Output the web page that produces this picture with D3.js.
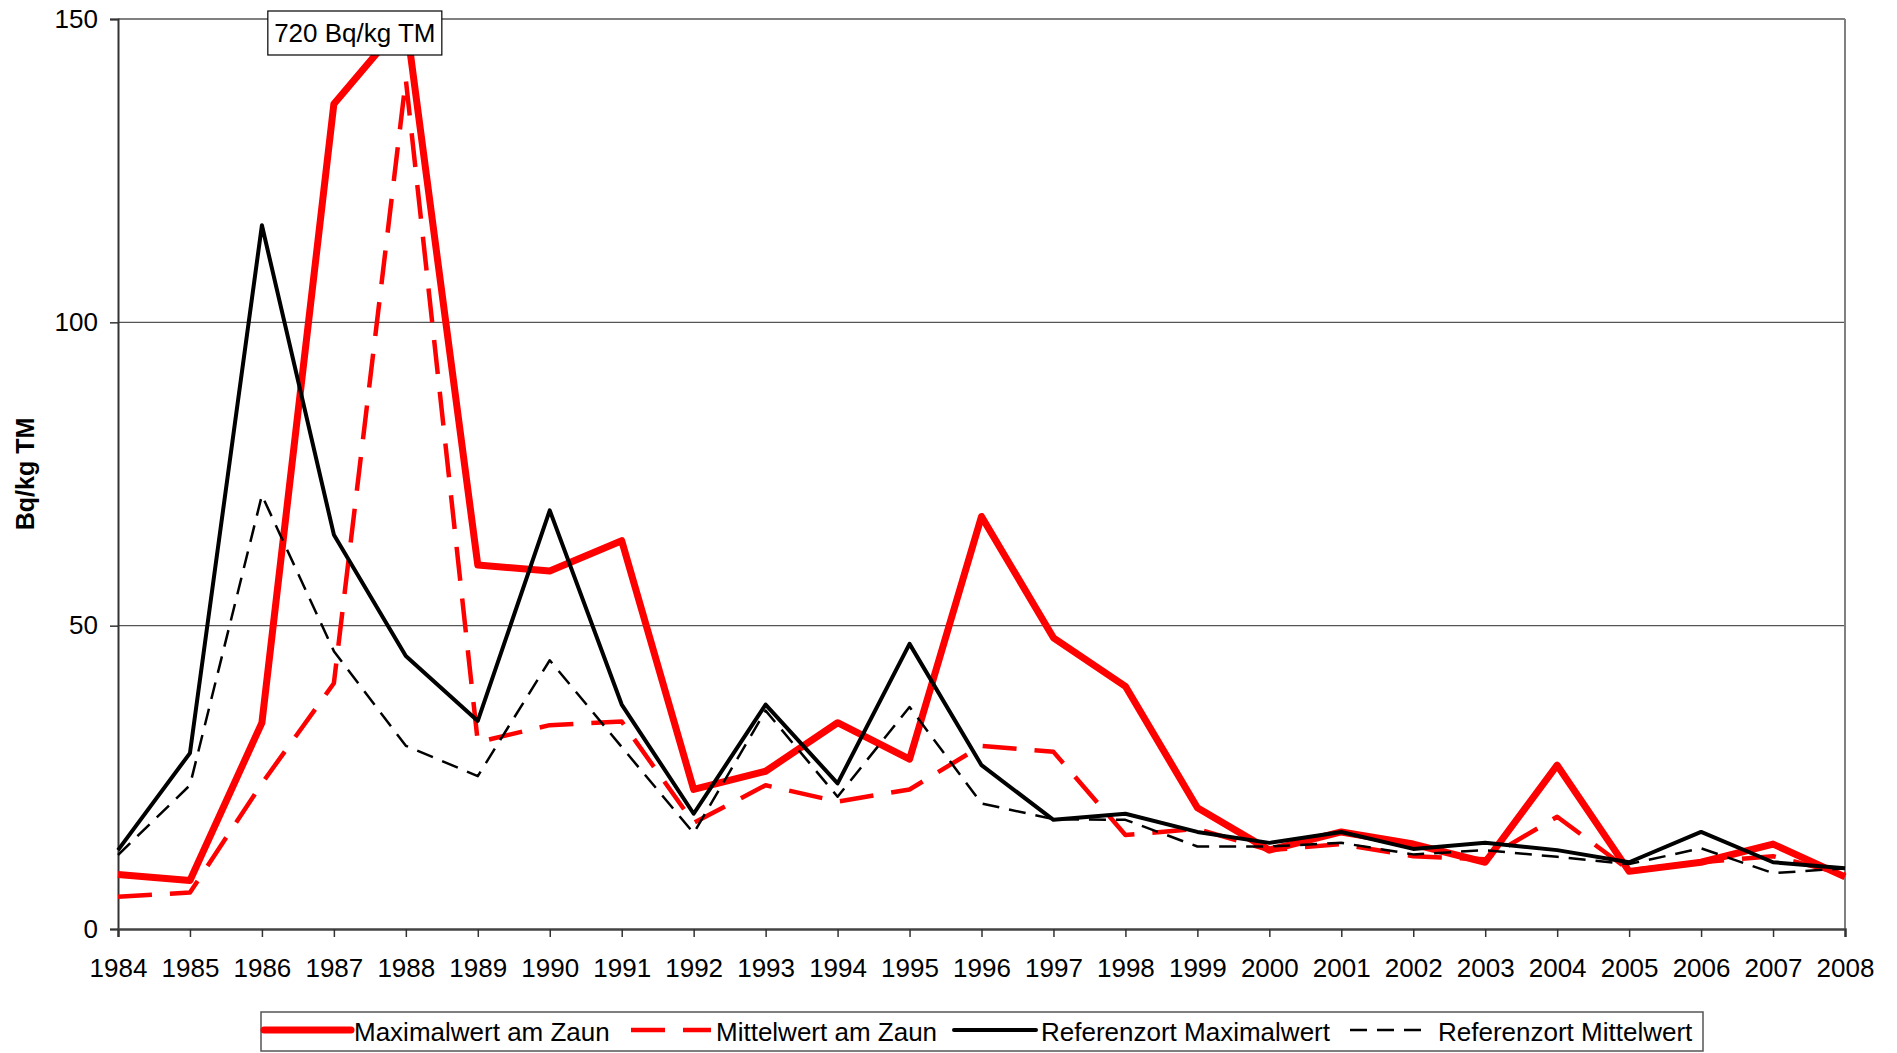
<!DOCTYPE html>
<html>
<head>
<meta charset="utf-8">
<script src="https://cdn.jsdelivr.net/npm/d3@7"></script>
<style>
  html, body { margin: 0; padding: 0; background: #fff; }
  svg { display: block; font-family: "Liberation Sans", Arial, sans-serif; }
</style>
</head>
<body>
<svg id="chart" width="1897" height="1053"></svg>
<script>
// ---- data ----
const years = [1984,1985,1986,1987,1988,1989,1990,1991,1992,1993,1994,1995,1996,1997,1998,1999,2000,2001,2002,2003,2004,2005,2006,2007,2008];
// 1988 maximum is off scale (720 Bq/kg TM), drawn capped at the axis maximum
const maxZaun   = [9, 8, 34, 136, 150, 60, 59, 64, 23, 26, 34, 28, 68, 48, 40, 20, 13, 16, 14, 11, 27, 9.5, 11, 14, 8.6];
const mittelZaun = [5.3, 6, 24, 40.5, 140, 30.8, 33.6, 34.2, 17.5, 23.7, 21, 23, 30.2, 29.2, 15.5, 16.5, 13, 14, 12, 11.5, 18.5, 9.7, 11, 12, 9];
const refMax    = [13, 29, 116, 65, 45, 34.3, 69, 37, 19, 37, 24, 47, 27, 18, 19, 16, 14.2, 16, 13.2, 14.2, 13, 11, 16, 11, 10];
const refMittel = [12.2, 23.7, 71.5, 45.8, 30.2, 25.2, 44.3, 30, 15.8, 36, 21.8, 36.6, 20.7, 18.1, 18, 13.6, 13.6, 14.2, 12.3, 13, 11.9, 10.7, 13.3, 9.2, 10];
const yTicks = [0, 50, 100, 150];
const seriesNames = ["Maximalwert am Zaun", "Mittelwert am Zaun", "Referenzort Maximalwert", "Referenzort Mittelwert"];
const annotationText = "720 Bq/kg TM";
const annotationYear = 1988;
const yTitle = "Bq/kg TM";

// ---- layout ----
const svg = d3.select("#chart");
const pLeft = 118, pRight = 1845, pTop = 19, pBottom = 929;
const x = d3.scaleLinear().domain([1984, 2008]).range([pLeft, pRight]);
const y = d3.scaleLinear().domain([0, 150]).range([pBottom, pTop]);

const styles = [
  { color: "#ff0000", width: 7, dash: null },
  { color: "#ff0000", width: 4.5, dash: "34,18" },
  { color: "#000000", width: 4,   dash: null },
  { color: "#000000", width: 2.5, dash: "17,10" }
];
const allSeries = [maxZaun, mittelZaun, refMax, refMittel];

// gridlines
svg.append("g").selectAll("line").data(yTicks.filter(d => d > 0)).join("line")
  .attr("x1", pLeft).attr("x2", pRight)
  .attr("y1", d => y(d)).attr("y2", d => y(d))
  .attr("stroke", d => d === 150 ? "#808080" : "#555")
  .attr("stroke-width", d => d === 150 ? 2 : 1.2);
// right border
svg.append("line").attr("x1", pRight).attr("x2", pRight).attr("y1", pTop).attr("y2", pBottom)
  .attr("stroke", "#808080").attr("stroke-width", 2);

// y axis
const yAxis = svg.append("g").attr("transform", `translate(${pLeft},0)`)
  .call(d3.axisLeft(y).tickValues(yTicks).tickSize(8).tickPadding(12).tickFormat(d3.format("d")));
yAxis.select(".domain").attr("stroke", "#333").attr("stroke-width", 2);
yAxis.selectAll(".tick line").attr("stroke", "#333").attr("stroke-width", 1.5);
yAxis.selectAll(".tick text").attr("font-size", 26).attr("fill", "#000")
  .attr("font-family", "Liberation Sans, Arial, sans-serif");

// x axis
const xAxis = svg.append("g").attr("transform", `translate(0,${pBottom})`)
  .call(d3.axisBottom(x).tickValues(years).tickSize(8).tickPadding(22).tickFormat(d3.format("d")));
xAxis.select(".domain").attr("stroke", "#444").attr("stroke-width", 2.5);
xAxis.selectAll(".tick line").attr("stroke", "#333").attr("stroke-width", 1.5);
xAxis.selectAll(".tick text").attr("font-size", 26).attr("fill", "#000")
  .attr("font-family", "Liberation Sans, Arial, sans-serif");

// y title
svg.append("text")
  .attr("transform", `translate(34,${(pTop + pBottom) / 2}) rotate(-90)`)
  .attr("text-anchor", "middle")
  .attr("font-size", 25).attr("font-weight", "bold").text(yTitle);

// lines
const line = d3.line().x((d, i) => x(years[i])).y(d => y(d));
allSeries.forEach((s, k) => {
  svg.append("path").datum(s)
    .attr("d", line)
    .attr("fill", "none")
    .attr("stroke", styles[k].color)
    .attr("stroke-width", styles[k].width)
    .attr("stroke-linejoin", "round")
    .attr("stroke-dasharray", styles[k].dash);
});

// annotation box
const ax = x(annotationYear) - 51;
const ag = svg.append("g");
ag.append("rect").attr("x", ax - 87).attr("y", 11).attr("width", 174).attr("height", 44)
  .attr("fill", "#fff").attr("stroke", "#000").attr("stroke-width", 1.2);
ag.append("text").attr("x", ax).attr("y", 42).attr("text-anchor", "middle")
  .attr("font-size", 26).text(annotationText);

// legend
const lg = svg.append("g");
lg.append("rect").attr("x", 261).attr("y", 1012).attr("width", 1442).attr("height", 39)
  .attr("fill", "#fff").attr("stroke", "#555").attr("stroke-width", 1.5);
const legendPos = [
  { s: 264, e: 351, t: 354 },
  { s: 631, e: 711, t: 716 },
  { s: 954, e: 1036, t: 1041 },
  { s: 1350, e: 1426, t: 1438 }
];
seriesNames.forEach((name, k) => {
  const p = legendPos[k];
  lg.append("line").attr("x1", p.s).attr("x2", p.e).attr("y1", 1030).attr("y2", 1030)
    .attr("stroke", styles[k].color).attr("stroke-width", styles[k].width)
    .attr("stroke-linecap", styles[k].dash ? "butt" : "round")
    .attr("stroke-dasharray", styles[k].dash);
  lg.append("text").attr("x", p.t).attr("y", 1041).attr("font-size", 26).text(name);
});
</script>
</body>
</html>
